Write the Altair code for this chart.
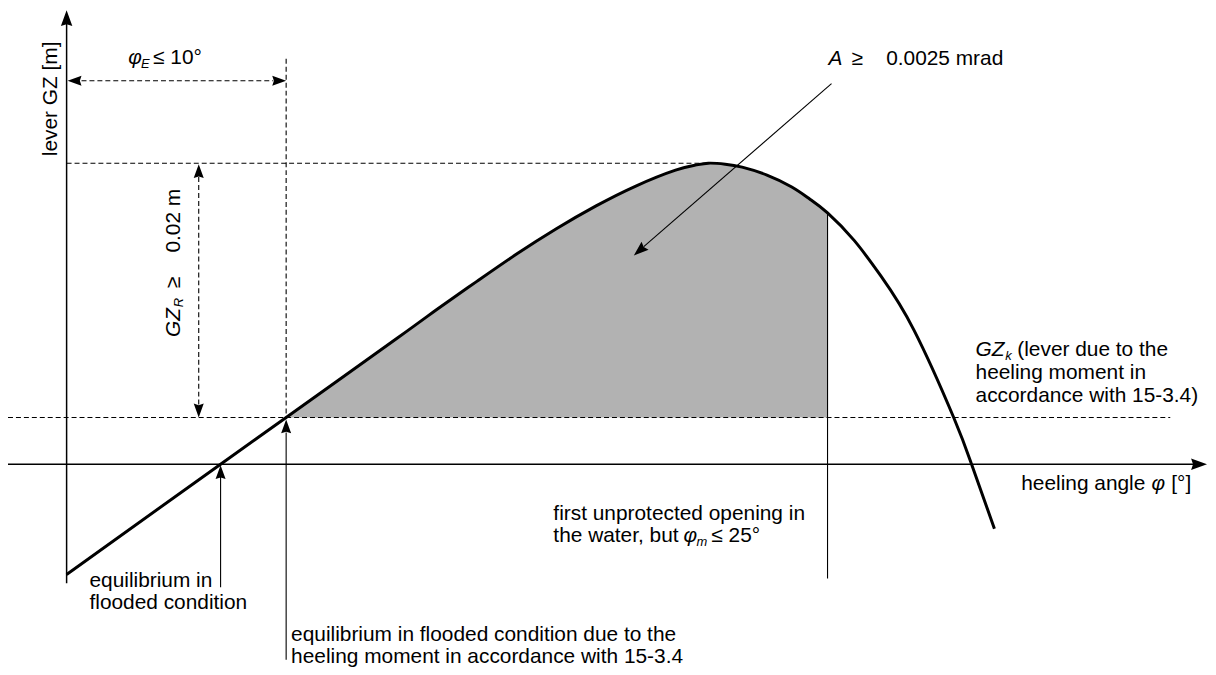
import altair as alt
import pandas as pd

FONT = "Liberation Sans"

# GZ curve (diagram coordinates; y grows downward)
curve_x = [67, 222, 288, 400, 440, 480, 520, 560, 600, 640, 680, 700, 713, 730, 747, 772,
           797, 815, 833, 860, 887, 920, 960, 978, 1001]
curve_y = [576, 465, 418, 338, 309, 281, 253.5, 228, 205, 185, 169, 164, 162, 163, 166, 174,
           186, 198, 212, 240, 276, 330, 418, 465, 530]

# shaded area A between GZk level and the curve
area_from, area_to = 288, 833
gzk_level = 418

# line segments: (x, y, x2, y2)
axis_lines = [(67, 585, 67, 22), (8, 465, 1201, 465)]
dashed_lines = [(67, 162, 713, 162), (8, 418, 1178, 418), (288, 57, 288, 418),
                (82, 79, 275, 79), (200, 176, 200, 405)]
thin_lines = [(833, 212, 833, 580), (222, 478, 222, 589), (288, 433, 288, 662),
              (837, 82, 648, 246)]

# arrow heads: (tip x, tip y, direction angle, size)
arrow_heads = [(67, 8, 0, 1024), (1215, 465, 90, 1024),
               (68, 79, 270, 784), (288, 79, 90, 784),
               (200, 163, 0, 784), (200, 418, 180, 784),
               (222, 466, 0, 784), (288, 420, 0, 784),
               (638, 255, 229, 900)]

# texts
regular = [
    ("equilibrium in", 90, 589), ("flooded condition", 90, 611),
    ("equilibrium in flooded condition due to the", 293, 643),
    ("heeling moment in accordance with 15-3.4", 293, 665),
    ("first unprotected opening in", 557, 521), ("the water, but", 557, 543),
    ("≤ 25°", 716, 543),
    ("(lever due to the", 1024, 356), ("heeling moment in", 982, 379),
    ("accordance with 15-3.4)", 982, 402),
    ("heeling angle", 1028, 491), ("[°]", 1179, 491),
    ("≥", 857, 63), ("0.0025 mrad", 892, 63), ("≤ 10°", 154, 62),
]
italic = [("A", 834, 63), ("φ", 129, 62), ("φ", 688, 543), ("φ", 1159, 491), ("GZ", 982, 356)]
subs = [("E", 142, 66), ("m", 701, 547), ("k", 1012, 360)]
rot_regular = [("lever GZ [m]", 57, 155), ("≥", 181, 288), ("0.02 m", 181, 252)]
rot_italic = [("GZ", 181, 337)]
rot_subs = [("R", 184, 307)]

XS = alt.Scale(domain=[8, 1216], nice=False, zero=False)
YS = alt.Scale(domain=[8, 670], nice=False, zero=False, reverse=True)


def X(f="x"):
    return alt.X(f + ":Q", scale=XS, axis=None)


def Y(f="y"):
    return alt.Y(f + ":Q", scale=YS, axis=None)


curve = pd.DataFrame({"x": curve_x, "y": curve_y})
area = curve.copy()
area["base"] = gzk_level
masks = pd.DataFrame({"x": [8, area_to + 0.5], "x2": [area_from, 1216],
                      "y": [8, 8], "y2": [670, 670]})


def seg_df(rows):
    return pd.DataFrame(rows, columns=["x", "y", "x2", "y2"])


def txt_df(rows):
    return pd.DataFrame(rows, columns=["t", "x", "y"])


area_layer = alt.Chart(area).mark_area(color="#b2b2b2", interpolate="natural", opacity=1).encode(
    x=X(), y=Y(), y2=alt.Y2("base:Q"))
mask_layer = alt.Chart(masks).mark_rect(color="white", opacity=1).encode(
    x=X(), x2=alt.X2("x2:Q"), y=Y(), y2=alt.Y2("y2:Q"))
curve_layer = alt.Chart(curve).mark_line(color="black", strokeWidth=3, interpolate="natural").encode(
    x=X(), y=Y(), order="x:Q")


def rules(rows, **kw):
    return alt.Chart(seg_df(rows)).mark_rule(color="black", **kw).encode(
        x=X(), y=Y(), x2=alt.X2("x2:Q"), y2=alt.Y2("y2:Q"))


axis_layer = rules(axis_lines, strokeWidth=1.5)
dash_layer = rules(dashed_lines, strokeWidth=1.1, strokeDash=[5, 3])
thin_layer = rules(thin_lines, strokeWidth=1.1)

heads = pd.DataFrame(arrow_heads, columns=["x", "y", "a", "s"])
head_layer = alt.Chart(heads).mark_point(
    shape="M0,0L-0.36,1L0,0.88L0.36,1Z", filled=True, color="black", opacity=1, strokeWidth=0
).encode(x=X(), y=Y(), angle=alt.Angle("a:Q", scale=None), size=alt.Size("s:Q", scale=None))


def texts(rows, size=21, style="normal", angle=0):
    return alt.Chart(txt_df(rows)).mark_text(
        align="left", baseline="alphabetic", font=FONT, fontSize=size, fontStyle=style,
        color="black", angle=angle
    ).encode(x=X(), y=Y(), text="t:N")


chart = alt.layer(
    area_layer, mask_layer, dash_layer, thin_layer, axis_layer, curve_layer, head_layer,
    texts(regular), texts(italic, style="italic"), texts(subs, size=13, style="italic"),
    texts(rot_regular, angle=270), texts(rot_italic, style="italic", angle=270),
    texts(rot_subs, size=13, style="italic", angle=270),
).properties(width=1208, height=662, padding=0, autosize="none",
             background="white").configure_view(stroke=None)

chart.save("out.html", embed_options={"renderer": "svg", "actions": False})
